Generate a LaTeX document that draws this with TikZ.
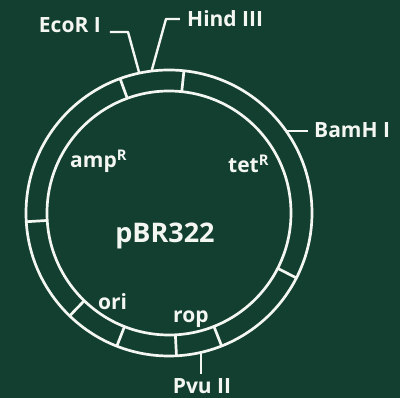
\documentclass[tikz,border=0pt]{standalone}
\usepackage{fontspec}
\setmainfont{Open Sans}
\definecolor{board}{HTML}{123F30}
\definecolor{chalk}{HTML}{F4F6F2}
\usepackage{tikz}

\tikzset{
  ring/.style={draw=chalk, line width=2.7pt},
  site/.style={draw=chalk, line width=2.4pt},
  lbl/.style={text=chalk, font=\bfseries\fontsize{21}{23}\selectfont, inner sep=0pt},
}

\begin{document}
\begin{tikzpicture}[x=1pt,y=1pt]
                    \fill[board] (-169,-185) rectangle (231,213);
                    \useasboundingbox (-169,-185) rectangle (231,213);
                    % plasmid ring
                    \draw[ring] (0,0) circle (143);
                    \draw[ring] (0,0) circle (122);
                    \foreach \a in {84,110,183.5,226,248.6,273,291.6,333}
                        \draw[ring] (\a:122) -- (\a:143);
                    % restriction sites
                    \coordinate (ecorpt) at (102:143);
                    \coordinate (hindpt) at (97:143);
                    \coordinate (bampt) at (35:143);
                    \coordinate (pvupt) at (283:143);
                    \node[lbl, anchor=base east] (ecor) at (-68,180) {EcoR I};
                    \node[lbl, anchor=base west] (hind) at (18,186) {Hind III};
                    \node[lbl, anchor=base west] (bam) at (145,75) {BamH I};
                    \node[lbl, anchor=base] (pvu) at (33,-181) {Pvu II};
                    \draw[site, line join=round] (ecorpt) -- (-41,181) -- (-59,181);
                    \draw[site, line join=round] (hindpt) -- (-3,194) -- (11,194);
                    \draw[site] (bampt) -- (bampt -| 139,0);
                    \draw[site] (pvupt) -- (pvupt |- 0,-161);
                    % genes
                    \node[lbl, anchor=base west] (amp) at (-99,45) {amp\textsuperscript{R}};
                    \node[lbl, anchor=base west] (tet) at (59,40) {tet\textsuperscript{R}};
                    \node[lbl, anchor=base west] (ori) at (-71,-97) {ori};
                    \node[lbl, anchor=base west] (rop) at (4,-110) {rop};
                    \node[lbl, anchor=base, font=\bfseries\fontsize{27}{29}\selectfont] (name) at (-4,-30) {pBR322};
\end{tikzpicture}
\end{document}
